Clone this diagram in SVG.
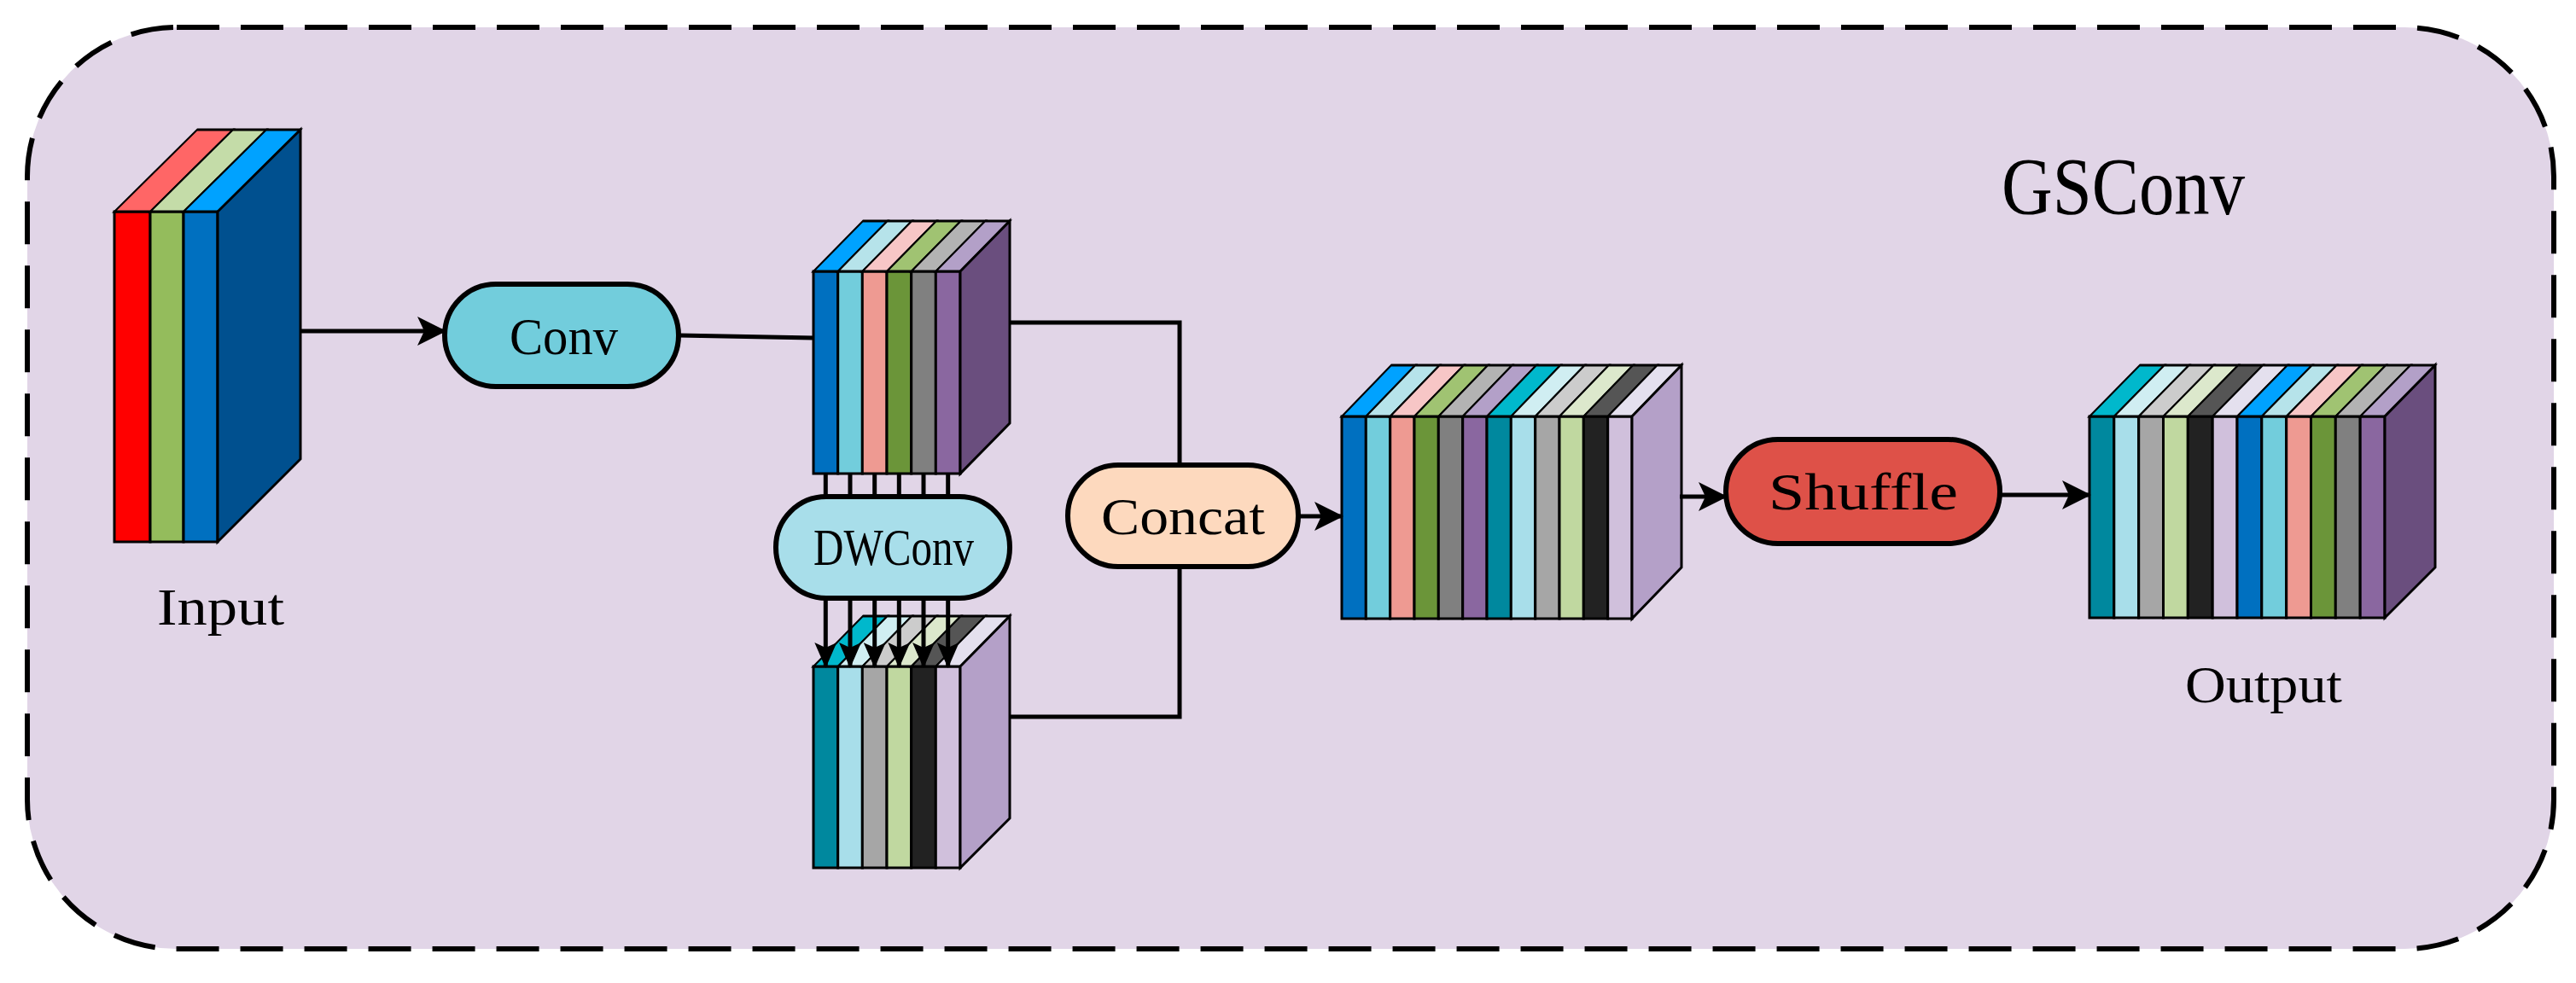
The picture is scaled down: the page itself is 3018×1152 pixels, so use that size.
<svg xmlns="http://www.w3.org/2000/svg" width="3018" height="1152" viewBox="0 0 3018 1152">
<style>
.e{stroke:#000;stroke-width:3;stroke-linejoin:miter}
.n{stroke:#000;stroke-width:6}
.c{fill:none;stroke:#000;stroke-width:5}
.t{font-family:"Liberation Serif",serif;font-size:62px;fill:#000}
</style>
<defs>
<marker id="a" markerUnits="userSpaceOnUse" markerWidth="34" markerHeight="34" refX="32" refY="17" orient="auto" viewBox="0 0 34 34"><path d="M0,0 L34,17 L0,34 L8,17 Z" fill="#000"/></marker>
<marker id="s" markerUnits="userSpaceOnUse" markerWidth="30" markerHeight="26" refX="28" refY="13" orient="auto" viewBox="0 0 30 26"><path d="M0,0 L30,13 L0,26 L6,13 Z" fill="#000"/></marker>
</defs>
<rect x="32" y="32" width="2960" height="1080" rx="175" fill="#E1D5E7" stroke="#000" stroke-width="6" stroke-dasharray="50,25"/>
<text class="t" x="2345" y="251" style="font-size:96px" textLength="285" lengthAdjust="spacingAndGlyphs">GSConv</text>

<g id="input">
<rect class="e" x="134" y="248" width="42" height="387" fill="#FF0000"/>
<rect class="e" x="176" y="248" width="39" height="387" fill="#94BC5C"/>
<rect class="e" x="215" y="248" width="40" height="387" fill="#0070C0"/>
<g transform="translate(0,248) skewX(-45.3)">
<rect class="e" x="134" y="-96" width="42" height="96" fill="#FF6666"/>
<rect class="e" x="176" y="-96" width="39" height="96" fill="#C4DCA8"/>
<rect class="e" x="215" y="-96" width="40" height="96" fill="#00A2FF"/>
</g>
<polygon class="e" points="255,248 352,152 352,538 255,635" fill="#00508F"/>
<text class="t" x="184" y="732" textLength="149" lengthAdjust="spacingAndGlyphs">Input</text>
</g>

<g id="conv">
<rect class="n" x="521" y="333" width="274" height="120" rx="60" fill="#72CDDC"/>
<text class="t" x="597" y="415" textLength="127" lengthAdjust="spacingAndGlyphs">Conv</text>
</g>

<g id="feat1">
<rect class="e" x="953" y="318" width="28.7" height="237" fill="#0070C0"/>
<rect class="e" x="981.7" y="318" width="28.7" height="237" fill="#72CDDC"/>
<rect class="e" x="1010.3" y="318" width="28.7" height="237" fill="#EE9A92"/>
<rect class="e" x="1039" y="318" width="28.7" height="237" fill="#6B9539"/>
<rect class="e" x="1067.7" y="318" width="28.7" height="237" fill="#808080"/>
<rect class="e" x="1096.3" y="318" width="28.7" height="237" fill="#8A67A0"/>
<g transform="translate(0,318) skewX(-44.5)">
<rect class="e" x="953" y="-59" width="28.7" height="59" fill="#00A2FF"/>
<rect class="e" x="981.7" y="-59" width="28.7" height="59" fill="#B6E3EA"/>
<rect class="e" x="1010.3" y="-59" width="28.7" height="59" fill="#F7C6C6"/>
<rect class="e" x="1039" y="-59" width="28.7" height="59" fill="#A0C372"/>
<rect class="e" x="1067.7" y="-59" width="28.7" height="59" fill="#B3B3B3"/>
<rect class="e" x="1096.3" y="-59" width="28.7" height="59" fill="#B3A0C8"/>
</g>
<polygon class="e" points="1125,318 1183,259 1183,496 1125,555" fill="#6A4E7E"/>
</g>

<g id="feat2">
<rect class="e" x="953" y="781" width="28.7" height="236" fill="#00889E"/>
<rect class="e" x="981.7" y="781" width="28.7" height="236" fill="#A8DEEA"/>
<rect class="e" x="1010.3" y="781" width="28.7" height="236" fill="#A6A6A6"/>
<rect class="e" x="1039" y="781" width="28.7" height="236" fill="#C0D8A0"/>
<rect class="e" x="1067.7" y="781" width="28.7" height="236" fill="#222222"/>
<rect class="e" x="1096.3" y="781" width="28.7" height="236" fill="#D0C0DC"/>
<g transform="translate(0,781) skewX(-44.5)">
<rect class="e" x="953" y="-59" width="28.7" height="59" fill="#00B8CC"/>
<rect class="e" x="981.7" y="-59" width="28.7" height="59" fill="#D0EEF2"/>
<rect class="e" x="1010.3" y="-59" width="28.7" height="59" fill="#CCCCCC"/>
<rect class="e" x="1039" y="-59" width="28.7" height="59" fill="#DCE8CC"/>
<rect class="e" x="1067.7" y="-59" width="28.7" height="59" fill="#555555"/>
<rect class="e" x="1096.3" y="-59" width="28.7" height="59" fill="#E4E0EE"/>
</g>
<polygon class="e" points="1125,781 1183,722 1183,959 1125,1017" fill="#B4A0C8"/>
</g>

<g id="dwconv">
<rect class="n" x="909" y="582" width="274" height="119" rx="59" fill="#A8DEEA"/>
<text class="t" x="953" y="662" textLength="188" lengthAdjust="spacingAndGlyphs">DWConv</text>
</g>

<g id="concat">
<rect class="n" x="1251" y="545" width="270" height="119" rx="59" fill="#FDD9BE"/>
<text class="t" x="1290" y="626" textLength="192" lengthAdjust="spacingAndGlyphs">Concat</text>
</g>

<g id="feat3">
<rect class="e" x="1572" y="488" width="28.33" height="237" fill="#0070C0"/>
<rect class="e" x="1600.3" y="488" width="28.33" height="237" fill="#72CDDC"/>
<rect class="e" x="1628.7" y="488" width="28.33" height="237" fill="#EE9A92"/>
<rect class="e" x="1657" y="488" width="28.33" height="237" fill="#6B9539"/>
<rect class="e" x="1685.3" y="488" width="28.33" height="237" fill="#808080"/>
<rect class="e" x="1713.7" y="488" width="28.33" height="237" fill="#8A67A0"/>
<rect class="e" x="1742" y="488" width="28.33" height="237" fill="#00889E"/>
<rect class="e" x="1770.3" y="488" width="28.33" height="237" fill="#A8DEEA"/>
<rect class="e" x="1798.7" y="488" width="28.33" height="237" fill="#A6A6A6"/>
<rect class="e" x="1827" y="488" width="28.33" height="237" fill="#C0D8A0"/>
<rect class="e" x="1855.3" y="488" width="28.33" height="237" fill="#222222"/>
<rect class="e" x="1883.7" y="488" width="28.33" height="237" fill="#D0C0DC"/>
<g transform="translate(0,488) skewX(-44)">
<rect class="e" x="1572" y="-60" width="28.33" height="60" fill="#00A2FF"/>
<rect class="e" x="1600.3" y="-60" width="28.33" height="60" fill="#B6E3EA"/>
<rect class="e" x="1628.7" y="-60" width="28.33" height="60" fill="#F7C6C6"/>
<rect class="e" x="1657" y="-60" width="28.33" height="60" fill="#A0C372"/>
<rect class="e" x="1685.3" y="-60" width="28.33" height="60" fill="#B3B3B3"/>
<rect class="e" x="1713.7" y="-60" width="28.33" height="60" fill="#B3A0C8"/>
<rect class="e" x="1742" y="-60" width="28.33" height="60" fill="#00B8CC"/>
<rect class="e" x="1770.3" y="-60" width="28.33" height="60" fill="#D0EEF2"/>
<rect class="e" x="1798.7" y="-60" width="28.33" height="60" fill="#CCCCCC"/>
<rect class="e" x="1827" y="-60" width="28.33" height="60" fill="#DCE8CC"/>
<rect class="e" x="1855.3" y="-60" width="28.33" height="60" fill="#555555"/>
<rect class="e" x="1883.7" y="-60" width="28.33" height="60" fill="#E4E0EE"/>
</g>
<polygon class="e" points="1912,488 1970,428 1970,665 1912,725" fill="#B4A0C8"/>
</g>

<g id="shuffle">
<rect class="n" x="2022" y="515" width="321" height="122" rx="61" fill="#DE5148"/>
<text class="t" x="2072" y="597" textLength="222" lengthAdjust="spacingAndGlyphs">Shuffle</text>
</g>

<g id="output">
<rect class="e" x="2448" y="488" width="28.83" height="236" fill="#00889E"/>
<rect class="e" x="2476.8" y="488" width="28.83" height="236" fill="#A8DEEA"/>
<rect class="e" x="2505.7" y="488" width="28.83" height="236" fill="#A6A6A6"/>
<rect class="e" x="2534.5" y="488" width="28.83" height="236" fill="#C0D8A0"/>
<rect class="e" x="2563.3" y="488" width="28.83" height="236" fill="#222222"/>
<rect class="e" x="2592.2" y="488" width="28.83" height="236" fill="#D0C0DC"/>
<rect class="e" x="2621" y="488" width="28.83" height="236" fill="#0070C0"/>
<rect class="e" x="2649.8" y="488" width="28.83" height="236" fill="#72CDDC"/>
<rect class="e" x="2678.7" y="488" width="28.83" height="236" fill="#EE9A92"/>
<rect class="e" x="2707.5" y="488" width="28.83" height="236" fill="#6B9539"/>
<rect class="e" x="2736.3" y="488" width="28.83" height="236" fill="#808080"/>
<rect class="e" x="2765.2" y="488" width="28.83" height="236" fill="#8A67A0"/>
<g transform="translate(0,488) skewX(-44.5)">
<rect class="e" x="2448" y="-60" width="28.83" height="60" fill="#00B8CC"/>
<rect class="e" x="2476.8" y="-60" width="28.83" height="60" fill="#D0EEF2"/>
<rect class="e" x="2505.7" y="-60" width="28.83" height="60" fill="#CCCCCC"/>
<rect class="e" x="2534.5" y="-60" width="28.83" height="60" fill="#DCE8CC"/>
<rect class="e" x="2563.3" y="-60" width="28.83" height="60" fill="#555555"/>
<rect class="e" x="2592.2" y="-60" width="28.83" height="60" fill="#E4E0EE"/>
<rect class="e" x="2621" y="-60" width="28.83" height="60" fill="#00A2FF"/>
<rect class="e" x="2649.8" y="-60" width="28.83" height="60" fill="#B6E3EA"/>
<rect class="e" x="2678.7" y="-60" width="28.83" height="60" fill="#F7C6C6"/>
<rect class="e" x="2707.5" y="-60" width="28.83" height="60" fill="#A0C372"/>
<rect class="e" x="2736.3" y="-60" width="28.83" height="60" fill="#B3B3B3"/>
<rect class="e" x="2765.2" y="-60" width="28.83" height="60" fill="#B3A0C8"/>
</g>
<polygon class="e" points="2794,488 2853,428 2853,665 2794,724" fill="#6A4E7E"/>
<text class="t" x="2560" y="823" textLength="184" lengthAdjust="spacingAndGlyphs">Output</text>
</g>

<g id="connectors">
<line class="c" x1="352" y1="388" x2="521" y2="388" marker-end="url(#a)"/>
<polyline class="c" points="795,393 953,396"/>
<polyline class="c" points="1183,378 1382,378 1382,545"/>
<polyline class="c" points="1183,840 1382,840 1382,664"/>
<line class="c" x1="1521" y1="605" x2="1572" y2="605" marker-end="url(#a)"/>
<line class="c" x1="1968" y1="582" x2="2022" y2="582" marker-end="url(#a)"/>
<line class="c" x1="2343" y1="580" x2="2448" y2="580" marker-end="url(#a)"/>
<g stroke="#000" stroke-width="5">
<line x1="967.3" y1="555" x2="967.3" y2="582"/>
<line x1="996" y1="555" x2="996" y2="582"/>
<line x1="1024.7" y1="555" x2="1024.7" y2="582"/>
<line x1="1053.3" y1="555" x2="1053.3" y2="582"/>
<line x1="1082" y1="555" x2="1082" y2="582"/>
<line x1="1110.7" y1="555" x2="1110.7" y2="582"/>
<line x1="967.3" y1="701" x2="967.3" y2="781" marker-end="url(#s)"/>
<line x1="996" y1="701" x2="996" y2="781" marker-end="url(#s)"/>
<line x1="1024.7" y1="701" x2="1024.7" y2="781" marker-end="url(#s)"/>
<line x1="1053.3" y1="701" x2="1053.3" y2="781" marker-end="url(#s)"/>
<line x1="1082" y1="701" x2="1082" y2="781" marker-end="url(#s)"/>
<line x1="1110.7" y1="701" x2="1110.7" y2="781" marker-end="url(#s)"/>
</g>
</g>
</svg>
